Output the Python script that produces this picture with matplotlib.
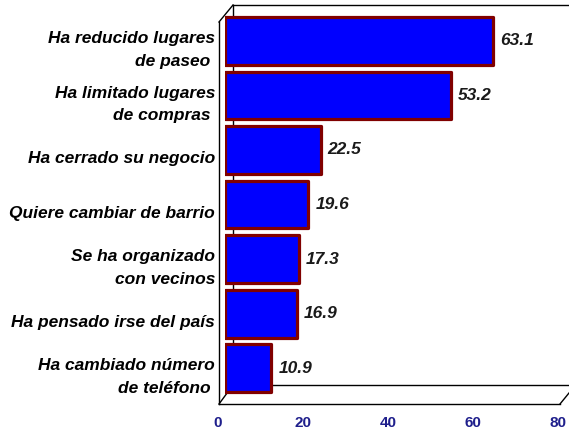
import matplotlib
matplotlib.use("Agg")
import matplotlib.pyplot as plt
from matplotlib.lines import Line2D
from matplotlib.transforms import ScaledTranslation, blended_transform_factory

categories = [
    "Ha reducido lugares\nde paseo ",
    "Ha limitado lugares\nde compras ",
    "Ha cerrado su negocio",
    "Quiere cambiar de barrio",
    "Se ha organizado\ncon vecinos",
    "Ha pensado irse del país",
    "Ha cambiado número\nde teléfono ",
]
values = [63.1, 53.2, 22.5, 19.6, 17.3, 16.9, 10.9]
xticks = [0, 20, 40, 60, 80]

W, H = 569, 429
fig = plt.figure(figsize=(W / 100, H / 100), dpi=100)
fam = ["Liberation Sans Narrow", "Liberation Sans", "DejaVu Sans"]

def fx(px):
    return px / W

def fy(py):
    return 1 - py / H

ax_left, ax_right, ax_top, ax_bot = 225, 565, 5, 404
ax = fig.add_axes([fx(ax_left), fy(ax_bot), fx(ax_right) - fx(ax_left), fy(ax_top) - fy(ax_bot)])
ax.set_xlim(0, 80)
ax.set_ylim(6.66, -0.66)
ax.patch.set_alpha(0)
for s in ax.spines.values():
    s.set_visible(False)
ax.set_xticks([])
ax.set_yticks([])

# 3D frame
def fline(xs, ys, lw=1.0):
    fig.add_artist(Line2D([fx(x) for x in xs], [fy(y) for y in ys], color="black", lw=lw, zorder=0))

fline([233, 569], [5, 5])
fline([233, 233], [5, 385])
fline([233, 569], [385, 385])
fline([219, 219], [22, 404])
fline([219, 233], [22, 5])
fline([219, 560], [404, 404])
fline([560, 569], [404, 393])
fline([219, 233], [404, 385])

ypos = list(range(len(categories)))
bars = ax.barh(ypos, values, height=0.88, left=0, color="#0000ff", edgecolor="#800000",
               lw=2.3, zorder=3)
for b in bars:
    b.set_joinstyle("round")

for y, v in zip(ypos, values):
    ax.annotate(f"{v:.1f}", xy=(v, y), xytext=(5, 0), textcoords="offset points",
                ha="left", va="center", fontsize=12.5, fontweight="bold", fontstyle="italic",
                color="#1a1a1a", family=fam)

# category labels (left of the front wall, shifted down like the reference)
ytrans = blended_transform_factory(fig.transFigure, ax.transData) + \
    ScaledTranslation(0, -9 / 100, fig.dpi_scale_trans)
for y, c in zip(ypos, categories):
    ax.text(fx(215), y, c, transform=ytrans, ha="right", va="center", multialignment="right",
            fontsize=12.5, fontweight="bold", fontstyle="italic", family=fam,
            linespacing=1.65, color="black")

# x tick labels placed along the front floor
xtrans = blended_transform_factory(ax.transData, fig.transFigure) + \
    ScaledTranslation(-7 / 100, 0, fig.dpi_scale_trans)
for t in xticks:
    ax.text(t, fy(423), str(t), transform=xtrans, ha="center", va="center",
            fontsize=11, fontweight="bold", color="#1f1f8c", family=fam)

fig.savefig("out.png", dpi=100)
